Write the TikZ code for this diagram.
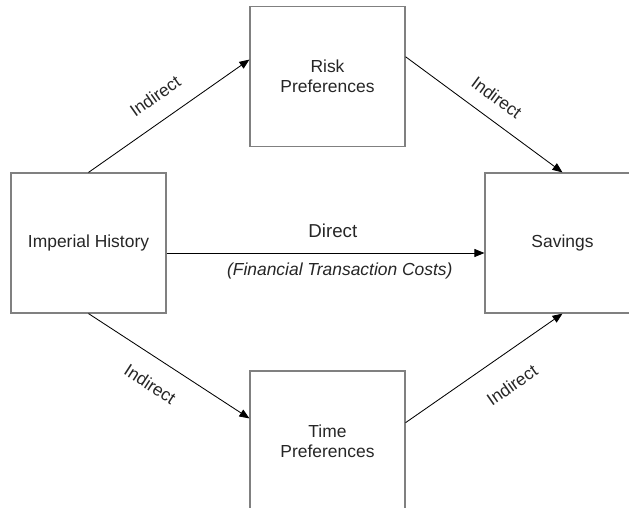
\documentclass[tikz,border=0pt]{standalone}
\usepackage{fontspec}
\setmainfont{Liberation Sans}
\usetikzlibrary{arrows.meta,calc}

\begin{document}
\begin{tikzpicture}[x=0.025cm,y=-0.025cm,
	box/.style={draw=black!50, line width=0.8pt, minimum width=3.875cm, minimum height=3.5cm, align=center, text=black!85, font=\fontsize{12.4}{14.2}\selectfont},
	arr/.style={-{Triangle[length=2.5mm,width=2mm]}, line width=0.6pt},
	lbl/.style={text=black!85, font=\fontsize{12.4}{14.2}\selectfont}]
				\useasboundingbox (0,0) rectangle (629,507);
				\clip (0,0) rectangle (629,507);
				
				% Boxes
				\node[box] (hist) at (88.5,243) {Imperial History};
				\node[box] (risk) at (327.5,76.5) {Risk\\Preferences};
				\node[box] (time) at (327.5,441) {Time\\Preferences};
				\node[box] (sav) at (562.5,243) {Savings};
				
				% Upper indirect path
				\draw[arr] (hist.north) -- ($(risk.north west)!0.38!(risk.south west)$) node[lbl, midway, sloped, above=9pt] {Indirect};
				\draw[arr] ($(risk.north east)!0.36!(risk.south east)$) -- (sav.north) node[lbl, midway, sloped, above=7pt] {Indirect};
				
				% Direct path
				\draw[arr] ($(hist.east)+(0,10)$) -- ($(sav.west)+(0,10)$)
					node[lbl, pos=0.523, above=7pt, font=\fontsize{13.3}{16}\selectfont] {Direct}
					node[lbl, pos=0.545, below=3.5pt] {\itshape (Financial Transaction Costs)};
				
				% Lower indirect path
				\draw[arr] (hist.south) -- ($(time.north west)!0.34!(time.south west)$) node[lbl, pos=0.47, sloped, below=10pt] {Indirect};
				\draw[arr] ($(time.north east)!0.37!(time.south east)$) -- (sav.south) node[lbl, pos=0.57, sloped, below=13pt] {Indirect};
			\end{tikzpicture}
\end{document}
